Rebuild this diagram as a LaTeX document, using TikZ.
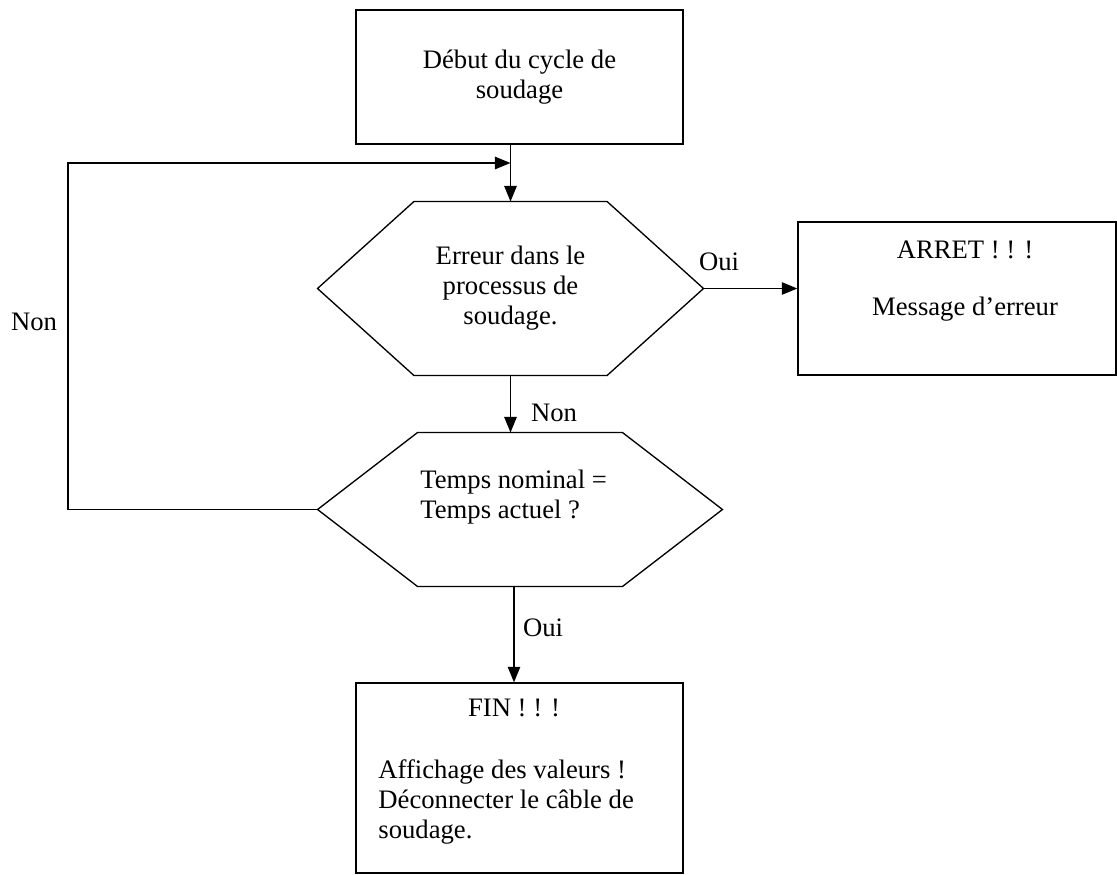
\documentclass[tikz,border=0pt]{standalone}
\usepackage{fontspec}
\setmainfont{Liberation Serif}
\usetikzlibrary{arrows.meta, positioning, calc}

% hexagon outline round a (not drawn) rectangle node
\newcommand{\hexcontour}[2]{%
  \draw[line] (#1.west) -- ([xshift=#2]#1.north west) -- ([xshift=-#2]#1.north east)
    -- (#1.east) -- ([xshift=-#2]#1.south east) -- ([xshift=#2]#1.south west) -- cycle;
}

\begin{document}
\begin{tikzpicture}[x=0.45pt, y=-0.45pt,
  line/.style={line width=0.6pt, line join=miter},
  arr/.style={line, -{Triangle[length=7pt,width=5.6pt]}},
  box/.style={draw, line width=0.6pt, rectangle, inner sep=0pt},
  hexa/.style={rectangle, inner sep=0pt},
  txt/.style={inner sep=0pt, font=\fontsize{12pt}{13.5pt}\selectfont},
]
\useasboundingbox (0,0) rectangle (1117,874);

% Boxes
\node[box, txt, align=center, minimum width=147.2pt, minimum height=60.3pt] (debut) at (519.5,77) {Début du cycle de\\soudage};
\node[box, minimum width=143.1pt, minimum height=68.9pt] (arret) at (957,298.5) {};
\node[box, minimum width=147.2pt, minimum height=85.5pt] (fin) at (519.5,778) {};

% Decisions
\node[hexa, txt, align=center, minimum width=173.3pt, minimum height=77.9pt] (err) at (510.5,288.5) {Erreur dans le\\processus de\\soudage.};
\hexcontour{err}{43.4pt}
\node[hexa, minimum width=181.8pt, minimum height=68.9pt] (temps) at (520,509.5) {};
\hexcontour{temps}{45pt}

% Texts
\node[txt, align=left, anchor=west] (temps-t) at (420,497) {Temps nominal =\\Temps actuel ?};
\node[txt, align=center] (arret-t) at (965,281.5) {ARRET ! ! !\\[12.2pt]Message d’erreur};
\node[txt] (fin-t) at (514,708) {FIN ! ! !};
\node[txt, align=left, anchor=west] (fin-b) at (378,802) {Affichage des valeurs !\\Déconnecter le câble de\\soudage.};

% Labels
\node[txt] (oui1) at (719,262) {Oui};
\node[txt] (non1) at (554,413) {Non};
\node[txt] (non2) at (34,322) {Non};
\node[txt] (oui2) at (543,628) {Oui};

% Connections
\coordinate (loopb) at (68,509.5);
\coordinate (loopt) at (68,163);
\draw[arr] (err.north |- debut.south) -- (err.north);
\draw[arr] (temps.west) -- (loopb) -- (loopt) -- (loopt -| err.north);
\draw[arr] (err.east) -- (err.east -| arret.west);
\draw[arr] (err.south) -- (err.south |- temps.north);
\draw[arr] ([xshift=-2.7pt]temps.south) -- ([xshift=-2.7pt]temps.south |- fin.north);
\end{tikzpicture}
\end{document}
